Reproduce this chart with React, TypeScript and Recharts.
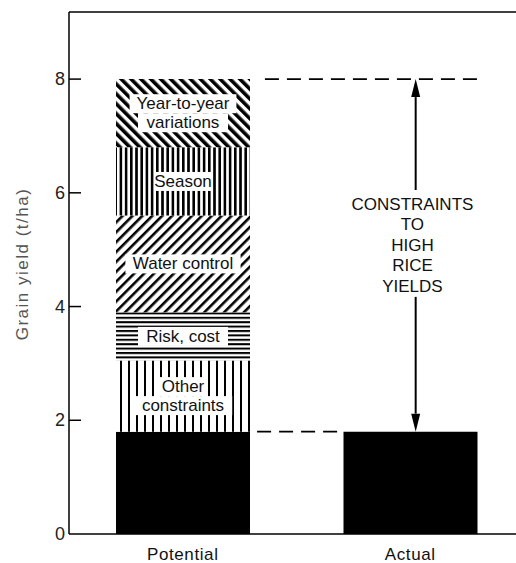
import { BarChart, Bar, XAxis, YAxis, ReferenceLine, ReferenceDot, LabelList } from 'recharts';

const categories = ['Potential', 'Actual'];
const baseYield = [1.8, 1.8];
const otherConstraints = [1.25, 0];
const riskCost = [0.85, 0];
const waterControl = [1.7, 0];
const season = [1.2, 0];
const yearToYear = [1.2, 0];

const yTicks = [0, 2, 4, 6, 8];
const Y_MAX = 9.18;

const otherLabel = ['Other', 'constraints'];
const riskLabel = ['Risk, cost'];
const waterLabel = ['Water control'];
const seasonLabel = ['Season'];
const yearLabel = ['Year-to-year', 'variations'];
const gapLabel = ['CONSTRAINTS', 'TO', 'HIGH', 'RICE', 'YIELDS'];

// annotations: x is a fraction of the plot width (hidden numeric axis "frac")
const potentialDash = { y: 8, from: 0.425, to: 0.898 };
const actualDash = { y: 1.8, from: 0.408, to: 0.594 };
const arrowX = 0.752;
const arrowUp = [6.05, 8];
const arrowDown = [4.17, 1.8];
const gapLabelPos = { x: 0.745, y: 5.08 };

const data = categories.map((name, i) => ({
    name,
    base: baseYield[i],
    other: otherConstraints[i],
    risk: riskCost[i],
    water: waterControl[i],
    season: season[i],
    year: yearToYear[i],
}));

const FONT = '"Liberation Sans", Arial, sans-serif';

const segLabel = (lines: string[]) => (props: any) => {
    const vb = props.viewBox && props.viewBox.width != null ? props.viewBox : props;
    const { x, y, width, height } = vb;
    if (props.index !== 0 || !height) return null;
    const cx = x + width / 2;
    const cy = y + height / 2;
    const lh = 19;
    return (
        <g>
            {lines.map((t, i) => {
                const ty = cy + (i - (lines.length - 1) / 2) * lh;
                const w = t.length * 8.4 + 6;
                return (
                    <g key={i}>
                        <rect x={cx - w / 2} y={ty - 9.5} width={w} height={19} fill="#fff" />
                        <text x={cx} y={ty} textAnchor="middle" dominantBaseline="central"
                            fontFamily={FONT} fontSize={17} fill="#111">{t}</text>
                    </g>
                );
            })}
        </g>
    );
};

const arrowShape = (p: any) => {
    const { x1, y1, x2, y2 } = p;
    const len = Math.hypot(x2 - x1, y2 - y1) || 1;
    const ux = (x2 - x1) / len;
    const uy = (y2 - y1) / len;
    const headLen = 18;
    const headW = 4.5;
    const bx = x2 - ux * headLen;
    const by = y2 - uy * headLen;
    return (
        <g>
            <line x1={x1} y1={y1} x2={bx} y2={by} stroke="#000" strokeWidth={2} />
            <polygon
                points={`${x2},${y2} ${bx - uy * headW},${by + ux * headW} ${bx + uy * headW},${by - ux * headW}`}
                fill="#000"
            />
        </g>
    );
};

const gapText = (p: any) => {
    const lh = 20.5;
    return (
        <g>
            {gapLabel.map((t, i) => (
                <text key={t} x={p.cx} y={p.cy + (i - (gapLabel.length - 1) / 2) * lh}
                    textAnchor="middle" dominantBaseline="central"
                    fontFamily={FONT} fontSize={17} fill="#111">{t}</text>
            ))}
        </g>
    );
};

const YTick = (props: any) => {
    const { x, y, payload } = props;
    return (
        <g>
            {payload.value !== 0 && <line x1={x} y1={y} x2={x + 12} y2={y} stroke="#000" strokeWidth={1.5} />}
            <text x={x - 4} y={y} textAnchor="end" dominantBaseline="central"
                fontFamily={FONT} fontSize={18} fill="#222">{payload.value}</text>
        </g>
    );
};

export default function App() {
    return (
        <div style={{ position: 'absolute', left: 0, top: 0, width: 516, height: 563, overflow: 'hidden', background: '#fff' }}>
            <BarChart width={530} height={563} data={data} margin={{ top: 12, right: 0, left: 0, bottom: 0 }} barSize={134}>
                <defs>
                    <pattern id="pYear" width="7" height="7" patternUnits="userSpaceOnUse" patternTransform="rotate(-45)">
                        <rect width="7" height="7" fill="#fff" />
                        <rect x="0" y="0" width="3.6" height="7" fill="#000" />
                    </pattern>
                    <pattern id="pSeason" width="5.2" height="10" patternUnits="userSpaceOnUse">
                        <rect width="5.2" height="10" fill="#fff" />
                        <rect x="0" y="0" width="2.6" height="10" fill="#000" />
                    </pattern>
                    <pattern id="pWater" width="7" height="7" patternUnits="userSpaceOnUse" patternTransform="rotate(45)">
                        <rect width="7" height="7" fill="#fff" />
                        <rect x="0" y="0" width="2.6" height="7" fill="#000" />
                    </pattern>
                    <pattern id="pRisk" width="10" height="4.4" patternUnits="userSpaceOnUse">
                        <rect width="10" height="4.4" fill="#fff" />
                        <rect x="0" y="0" width="10" height="2" fill="#000" />
                    </pattern>
                    <pattern id="pOther" width="8" height="10" patternUnits="userSpaceOnUse">
                        <rect width="8" height="10" fill="#fff" />
                        <rect x="0" y="0" width="2" height="10" fill="#000" />
                    </pattern>
                </defs>
                <XAxis
                    dataKey="name"
                    height={29}
                    padding={{ left: 0, right: 6 }}
                    axisLine={{ stroke: '#000', strokeWidth: 1.5 }}
                    tickLine={false}
                    tickSize={0}
                    tickMargin={14}
                    tick={{ fill: '#111', fontFamily: FONT, fontSize: 17, letterSpacing: 0.6 }}
                />
                <XAxis xAxisId="frac" type="number" domain={[0, 1]} hide />
                <YAxis
                    width={69}
                    domain={[0, Y_MAX]}
                    ticks={yTicks}
                    allowDataOverflow
                    axisLine={{ stroke: '#000', strokeWidth: 1.5 }}
                    tickLine={false}
                    tickSize={0}
                    tickMargin={0}
                    tick={<YTick />}
                    label={{
                        content: () => (
                            <text x={22} y={264} transform="rotate(-90 22 264)" textAnchor="middle"
                                dominantBaseline="central" fontFamily={FONT} fontSize={17}
                                letterSpacing={1.5} fill="#555">Grain yield (t/ha)</text>
                        ),
                    }}
                />
                <ReferenceLine y={Y_MAX} stroke="#000" strokeWidth={1.5} />
                <Bar dataKey="base" stackId="a" fill="#000" isAnimationActive={false} />
                <Bar dataKey="other" stackId="a" fill="url(#pOther)" isAnimationActive={false}>
                    <LabelList dataKey="other" content={segLabel(otherLabel)} />
                </Bar>
                <Bar dataKey="risk" stackId="a" fill="url(#pRisk)" isAnimationActive={false}>
                    <LabelList dataKey="risk" content={segLabel(riskLabel)} />
                </Bar>
                <Bar dataKey="water" stackId="a" fill="url(#pWater)" isAnimationActive={false}>
                    <LabelList dataKey="water" content={segLabel(waterLabel)} />
                </Bar>
                <Bar dataKey="season" stackId="a" fill="url(#pSeason)" isAnimationActive={false}>
                    <LabelList dataKey="season" content={segLabel(seasonLabel)} />
                </Bar>
                <Bar dataKey="year" stackId="a" fill="url(#pYear)" isAnimationActive={false}>
                    <LabelList dataKey="year" content={segLabel(yearLabel)} />
                </Bar>
                <ReferenceLine xAxisId="frac" segment={[{ x: potentialDash.from, y: potentialDash.y }, { x: potentialDash.to, y: potentialDash.y }]}
                    stroke="#000" strokeWidth={1.8} strokeDasharray="14 8" />
                <ReferenceLine xAxisId="frac" segment={[{ x: actualDash.from, y: actualDash.y }, { x: actualDash.to, y: actualDash.y }]}
                    stroke="#000" strokeWidth={1.8} strokeDasharray="14 8" />
                <ReferenceLine xAxisId="frac" segment={[{ x: arrowX, y: arrowUp[0] }, { x: arrowX, y: arrowUp[1] }]} shape={arrowShape} />
                <ReferenceLine xAxisId="frac" segment={[{ x: arrowX, y: arrowDown[0] }, { x: arrowX, y: arrowDown[1] }]} shape={arrowShape} />
                <ReferenceDot xAxisId="frac" x={gapLabelPos.x} y={gapLabelPos.y} r={0} shape={gapText} />
            </BarChart>
        </div>
    );
}
